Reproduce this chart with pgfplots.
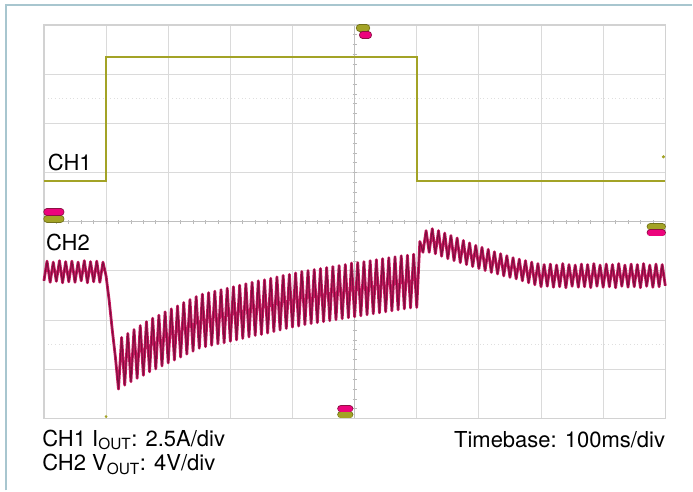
\documentclass[border=0pt]{standalone}
\usepackage{pgfplots}
\pgfplotsset{compat=1.18}
\usepackage{pgfplotstable}
\usepackage{fontspec}
\setmainfont{TeX Gyre Heros}

\definecolor{chone}{HTML}{A3A326}
\definecolor{chtwo}{HTML}{C8185F}
\definecolor{chtwodark}{HTML}{7E0E3E}
\definecolor{gridgray}{HTML}{DADADA}
\definecolor{framecol}{HTML}{A8C6CF}

% CH1: output current step (divisions)
\pgfplotstableread{
t i
0 0.83
1 0.83
1 3.35
6 3.35
6 0.83
10 0.83
}\iouttable

% CH2: output voltage with ripple (divisions)
\pgfplotstableread{
t v
0.00 -1.20
0.05 -0.80
0.10 -1.23
0.15 -0.82
0.20 -1.21
0.25 -0.79
0.30 -1.24
0.35 -0.81
0.40 -1.22
0.45 -0.80
0.50 -1.23
0.55 -0.82
0.60 -1.20
0.65 -0.79
0.70 -1.24
0.75 -0.81
0.80 -1.22
0.85 -0.80
0.90 -1.23
0.95 -0.82
1.00 -1.10
1.05 -1.60
1.10 -2.20
1.15 -2.75
1.20 -3.40
1.25 -2.35
1.30 -3.32
1.35 -2.27
1.40 -3.25
1.45 -2.19
1.50 -3.18
1.55 -2.11
1.60 -3.12
1.65 -2.03
1.70 -3.05
1.75 -1.96
1.80 -2.99
1.85 -1.90
1.90 -2.93
1.95 -1.83
2.00 -2.87
2.05 -1.77
2.10 -2.81
2.15 -1.71
2.20 -2.75
2.25 -1.64
2.30 -2.69
2.35 -1.58
2.40 -2.63
2.45 -1.52
2.50 -2.57
2.55 -1.47
2.60 -2.54
2.65 -1.44
2.70 -2.51
2.75 -1.41
2.80 -2.48
2.85 -1.38
2.90 -2.46
2.95 -1.35
3.00 -2.43
3.05 -1.32
3.10 -2.40
3.15 -1.29
3.20 -2.37
3.25 -1.26
3.30 -2.34
3.35 -1.23
3.40 -2.31
3.45 -1.20
3.50 -2.29
3.55 -1.18
3.60 -2.26
3.65 -1.15
3.70 -2.23
3.75 -1.12
3.80 -2.20
3.85 -1.09
3.90 -2.17
3.95 -1.07
4.00 -2.14
4.05 -1.04
4.10 -2.12
4.15 -1.01
4.20 -2.09
4.25 -0.99
4.30 -2.07
4.35 -0.97
4.40 -2.05
4.45 -0.95
4.50 -2.03
4.55 -0.93
4.60 -2.01
4.65 -0.91
4.70 -1.99
4.75 -0.89
4.80 -1.97
4.85 -0.87
4.90 -1.95
4.95 -0.84
5.00 -1.93
5.05 -0.83
5.10 -1.91
5.15 -0.81
5.20 -1.89
5.25 -0.79
5.30 -1.87
5.35 -0.77
5.40 -1.85
5.45 -0.75
5.50 -1.83
5.55 -0.73
5.60 -1.81
5.65 -0.71
5.70 -1.79
5.75 -0.69
5.80 -1.77
5.85 -0.68
5.90 -1.75
5.95 -0.66
6.00 -1.74
6.05 -0.40
6.10 -0.62
6.15 -0.18
6.20 -0.62
6.25 -0.14
6.30 -0.65
6.35 -0.18
6.40 -0.70
6.45 -0.23
6.50 -0.75
6.55 -0.28
6.60 -0.79
6.65 -0.33
6.70 -0.83
6.75 -0.38
6.80 -0.87
6.85 -0.43
6.90 -0.91
6.95 -0.48
7.00 -0.95
7.05 -0.52
7.10 -0.99
7.15 -0.56
7.20 -1.03
7.25 -0.61
7.30 -1.06
7.35 -0.65
7.40 -1.10
7.45 -0.69
7.50 -1.13
7.55 -0.73
7.60 -1.16
7.65 -0.76
7.70 -1.20
7.75 -0.79
7.80 -1.24
7.85 -0.82
7.90 -1.28
7.95 -0.85
8.00 -1.32
8.05 -0.87
8.10 -1.31
8.15 -0.86
8.20 -1.33
8.25 -0.88
8.30 -1.32
8.35 -0.85
8.40 -1.34
8.45 -0.87
8.50 -1.31
8.55 -0.88
8.60 -1.33
8.65 -0.86
8.70 -1.32
8.75 -0.87
8.80 -1.34
8.85 -0.85
8.90 -1.31
8.95 -0.88
9.00 -1.33
9.05 -0.86
9.10 -1.32
9.15 -0.87
9.20 -1.34
9.25 -0.85
9.30 -1.31
9.35 -0.88
9.40 -1.33
9.45 -0.86
9.50 -1.32
9.55 -0.87
9.60 -1.34
9.65 -0.85
9.70 -1.31
9.75 -0.88
9.80 -1.33
9.85 -0.86
9.90 -1.32
9.95 -0.87
10.00 -1.30
}\vouttable

\begin{document}
\begin{tikzpicture}[font=\fontsize{16.5}{19}\selectfont]
\begin{axis}[
scale only axis,
width=466.5pt,
height=295.5pt,
xmin=-5, xmax=5,
ymin=-4, ymax=4,
axis lines=center,
axis line style={-, draw=gray!50, line width=0.6pt},
xtick={-5,...,5},
ytick={-4,...,4},
xticklabels={}, yticklabels={},
minor x tick num=4,
minor y tick num=4,
tick align=center,
major tick length=3pt,
minor tick length=3pt,
tick style={gray!55, line width=0.5pt},
grid=major,
major grid style={gridgray, line width=0.75pt},
extra y ticks={-2.5,2.5},
extra y tick labels={},
extra y tick style={major tick length=0pt, grid=major, major grid style={gray!25, dotted, line width=0.75pt}},
clip=false,
pill/.style={line width=4.4pt, line cap=round},
pillrim/.style={line width=5.6pt, line cap=round},
]
% picture size and outer frame
\path (rel axis cs:-0.0707,-0.1827) rectangle (rel axis cs:1.0434,1.0635);
\draw[framecol, line width=1.1pt] (rel axis cs:-0.0611,-0.1827) -- (rel axis cs:-0.0611,1.0508) -- (rel axis cs:1.0434,1.0508);
\draw[gray!35, line width=1.1pt] (rel axis cs:0,0) rectangle (rel axis cs:1,1);

% traces
\addplot[chtwo, line width=2.1pt, line join=round] table[x expr=\thisrow{t}-5, y=v] {\vouttable};
\addplot[chtwodark, line width=0.8pt, line join=round] table[x expr=\thisrow{t}-5, y=v] {\vouttable};
\addplot[chone, line width=1.7pt] table[x expr=\thisrow{t}-5, y=i] {\iouttable};
\addplot[chone, only marks, mark=*, mark size=1pt] coordinates {(4.97,1.32)};
\addplot[chone, only marks, mark=*, mark size=0.8pt] coordinates {(-4,-3.96)};

% channel and trigger markers
\addplot[pillrim, chone!70!black] coordinates {(-4.95,0.06) (-4.73,0.06)};
\addplot[pill, chone] coordinates {(-4.95,0.06) (-4.73,0.06)};
\addplot[pillrim, chtwo!70!black] coordinates {(-4.95,0.20) (-4.73,0.20)};
\addplot[pill, magenta!85!red] coordinates {(-4.95,0.20) (-4.73,0.20)};

\addplot[pillrim, chone!70!black] coordinates {(4.76,-0.10) (4.95,-0.10)};
\addplot[pill, chone] coordinates {(4.76,-0.10) (4.95,-0.10)};
\addplot[pillrim, chtwo!70!black] coordinates {(4.76,-0.22) (4.95,-0.22)};
\addplot[pill, magenta!85!red] coordinates {(4.76,-0.22) (4.95,-0.22)};

\addplot[pillrim, chone!70!black] coordinates {(0.08,3.94) (0.19,3.94)};
\addplot[pill, chone] coordinates {(0.08,3.94) (0.19,3.94)};
\addplot[pillrim, chtwo!70!black] coordinates {(0.13,3.80) (0.22,3.80)};
\addplot[pill, magenta!85!red] coordinates {(0.13,3.80) (0.22,3.80)};

\addplot[pillrim, chone!70!black] coordinates {(-0.22,-3.92) (-0.08,-3.92)};
\addplot[pill, chone] coordinates {(-0.22,-3.92) (-0.08,-3.92)};
\addplot[pillrim, chtwo!70!black] coordinates {(-0.22,-3.80) (-0.08,-3.80)};
\addplot[pill, magenta!85!red] coordinates {(-0.22,-3.80) (-0.08,-3.80)};

% labels
\node[anchor=west, inner sep=0pt] at (axis cs:-4.94,1.20) {CH1};
\node[anchor=west, inner sep=0pt] at (axis cs:-4.97,-0.43) {CH2};
\node[anchor=west, inner sep=0pt] at (axis cs:-5.03,-4.43) {CH1 I\textsubscript{OUT}: 2.5A/div};
\node[anchor=west, inner sep=0pt] at (axis cs:-5.03,-4.93) {CH2 V\textsubscript{OUT}: 4V/div};
\node[anchor=east, inner sep=0pt] at (axis cs:5.0,-4.43) {Timebase: 100ms/div};
\end{axis}
\end{tikzpicture}
\end{document}
